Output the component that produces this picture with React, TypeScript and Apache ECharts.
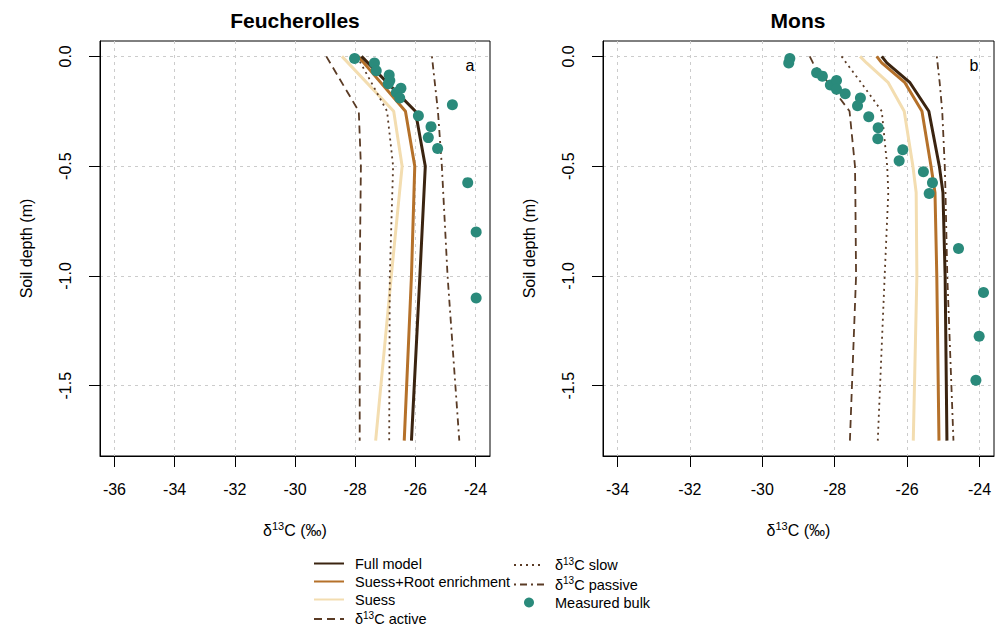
import React, { useEffect, useRef } from 'react';
import * as echarts from 'echarts';

const FONT = '"Liberation Sans", Arial, Helvetica, sans-serif';

// Panel titles
const panelTitles = ['Feucherolles', 'Mons'];
const panelLetters = ['a', 'b'];

// Tick labels
const xTicksLeft = [-36, -34, -32, -30, -28, -26, -24];
const xTicksRight = [-34, -32, -30, -28, -26, -24];
const yTicks = [0, -0.5, -1.0, -1.5];

// Left panel (Feucherolles) model profiles: depth (m) and δ13C (‰)
const leftDepths = [0, -0.25, -0.5, -1.0, -1.75];
const leftFull = [-27.79, -26.0, -25.67, -25.85, -26.13];
const leftRoot = [-27.9, -26.33, -26.02, -26.13, -26.37];
const leftSuess = [-28.44, -26.72, -26.44, -26.8, -27.32];
const leftActive = [-28.96, -27.88, -27.81, -27.85, -27.85];
const leftSlow = [-27.94, -26.94, -26.74, -26.85, -26.87];
const leftPassive = [-25.45, -25.25, -25.12, -24.93, -24.54];

// Left measured bulk
const leftBulkX = [-28.02, -27.36, -27.3, -26.87, -26.85, -26.9, -26.48, -26.63, -26.52, -24.77, -25.9, -25.48, -25.57, -25.26, -24.26, -23.98, -23.98];
const leftBulkD = [-0.01, -0.03, -0.065, -0.085, -0.11, -0.125, -0.145, -0.165, -0.19, -0.22, -0.27, -0.32, -0.37, -0.42, -0.575, -0.8, -1.1];

// Right panel (Mons) model profiles
const rightDepths = [0, -0.03, -0.12, -0.25, -0.5, -0.62, -1.0, -1.75];
const rightFull = [-26.7, -26.56, -25.92, -25.4, -25.11, -25.01, -24.95, -24.9];
const rightRoot = [-26.84, -26.7, -26.06, -25.59, -25.34, -25.23, -25.18, -25.12];
const rightSuess = [-27.3, -27.12, -26.52, -26.08, -25.84, -25.75, -25.73, -25.83];
const rightActive = [-28.69, -28.6, -28.18, -27.59, -27.44, -27.43, -27.41, -27.58];
const rightSlow = [-27.81, -27.68, -27.27, -26.7, -26.55, -26.52, -26.62, -26.81];
const rightPassive = [-25.18, -25.16, -25.1, -25.03, -24.96, -24.94, -24.89, -24.72];

// Right measured bulk
const rightBulkX = [-29.24, -29.27, -28.5, -28.34, -28.12, -27.95, -27.95, -27.71, -27.29, -27.37, -27.06, -26.8, -26.81, -26.12, -26.22, -25.55, -25.3, -25.39, -24.58, -23.89, -24.01, -24.1];
const rightBulkD = [-0.01, -0.03, -0.075, -0.09, -0.13, -0.11, -0.15, -0.17, -0.19, -0.225, -0.275, -0.325, -0.375, -0.425, -0.475, -0.525, -0.575, -0.625, -0.875, -1.075, -1.275, -1.475];

const legendCol1 = ['Full model', 'Suess+Root enrichment', 'Suess', 'active'];
const legendCol2 = ['slow', 'passive', 'Measured bulk'];

const C_FULL = '#3b2410';
const C_ROOT = '#b5712a';
const C_SUESS = '#f3ddb0';
const C_POOL = '#5a3b25';
const C_BULK = '#2a8a7b';

function pairs(xs: number[], ds: number[]) {
  return xs.map((x, i) => [x, ds[i]]);
}

function lineSeries(name: string, xs: number[], ds: number[], idx: number, color: string, width: number, type: any) {
  return {
    type: 'line',
    name,
    data: pairs(xs, ds),
    xAxisIndex: idx,
    yAxisIndex: idx,
    symbol: 'none',
    silent: true,
    lineStyle: { color, width, type, cap: 'butt' },
    itemStyle: { color },
    z: 2,
  };
}

function bulkSeries(xs: number[], ds: number[], idx: number) {
  return {
    type: 'scatter',
    name: 'Measured bulk',
    data: pairs(xs, ds),
    xAxisIndex: idx,
    yAxisIndex: idx,
    symbol: 'circle',
    symbolSize: 11,
    silent: true,
    itemStyle: { color: C_BULK, opacity: 1 },
    z: 3,
  };
}

const axisNameRich = {
  t: { fontSize: 16, fontFamily: FONT, color: '#000' },
  s: { fontSize: 11, fontFamily: FONT, color: '#000', padding: [0, 0, 9, 0] },
};

function makeXAxis(idx: number, min: number, max: number, ticks: number[]) {
  return {
    type: 'value',
    gridIndex: idx,
    min,
    max,
    position: 'bottom',
    name: '{t|δ}{s|13}{t|C (‰)}',
    nameLocation: 'middle',
    nameGap: 64,
    nameTextStyle: { rich: axisNameRich },
    axisLine: { show: true, onZero: false, lineStyle: { color: '#000', width: 1 } },
    axisTick: { show: true, length: 11, customValues: ticks, lineStyle: { color: '#000', width: 1 } },
    axisLabel: { show: true, customValues: ticks, margin: 25, fontSize: 16, fontFamily: FONT, color: '#000', formatter: (v: number) => String(v) },
    splitLine: { show: true, lineStyle: { color: '#cccccc', width: 1, type: [3, 4] } },
  };
}

function makeYAxis(idx: number) {
  return {
    type: 'value',
    gridIndex: idx,
    min: -1.82,
    max: 0.07,
    name: 'Soil depth (m)',
    nameLocation: 'middle',
    nameRotate: 90,
    nameGap: 66,
    nameTextStyle: { fontSize: 16, fontFamily: FONT, color: '#000' },
    axisLine: { show: true, onZero: false, lineStyle: { color: '#000', width: 1 } },
    axisTick: { show: true, length: 11, customValues: yTicks, lineStyle: { color: '#000', width: 1 } },
    axisLabel: { show: true, customValues: yTicks, rotate: 90, margin: 27, fontSize: 16, fontFamily: FONT, color: '#000', formatter: (v: number) => v.toFixed(1) },
    splitLine: { show: true, lineStyle: { color: '#cccccc', width: 1, type: [3, 4] } },
  };
}

const legendRich = {
  t: { fontSize: 14.5, fontFamily: FONT, color: '#000', lineHeight: 18 },
  s: { fontSize: 10, fontFamily: FONT, color: '#000', padding: [0, 0, 8, 0] },
};

function legendFormatter(name: string) {
  if (name === 'active' || name === 'slow' || name === 'passive') {
    return '{t|δ}{s|13}{t|C ' + name + '}';
  }
  return '{t|' + name + '}';
}

function legendItems(names: string[]) {
  return names.map((n) => (n === 'Measured bulk' ? { name: n } : { name: n, itemStyle: { opacity: 0 } }));
}

function makeLegend(names: string[], left: number) {
  return {
    data: legendItems(names),
    orient: 'vertical',
    left,
    top: 556,
    width: 200,
    height: 120,
    padding: 0,
    itemGap: 3,
    itemWidth: 30,
    itemHeight: 10,
    selectedMode: false,
    formatter: legendFormatter,
    textStyle: { fontSize: 14.5, fontFamily: FONT, color: '#000', padding: [0, 0, 0, 6], rich: legendRich },
  };
}

export default function App() {
  const ref = useRef<HTMLDivElement>(null);

  useEffect(() => {
    if (!ref.current) return;
    const chart = echarts.init(ref.current, null, { renderer: 'svg' });

    const option: any = {
      animation: false,
      backgroundColor: '#ffffff',
      textStyle: { fontFamily: FONT },
      grid: [
        { left: 100, top: 41, width: 390, height: 415, show: true, borderColor: '#000', borderWidth: 1, backgroundColor: 'transparent' },
        { left: 603, top: 41, width: 391, height: 415, show: true, borderColor: '#000', borderWidth: 1, backgroundColor: 'transparent' },
      ],
      xAxis: [makeXAxis(0, -36.48, -23.52, xTicksLeft), makeXAxis(1, -34.4, -23.6, xTicksRight)],
      yAxis: [makeYAxis(0), makeYAxis(1)],
      legend: [makeLegend(legendCol1, 313), makeLegend(legendCol2, 513)],
      graphic: [
        { type: 'text', x: 295, y: 20, style: { text: panelTitles[0], font: 'bold 21px ' + FONT, fill: '#000', textAlign: 'center', textVerticalAlign: 'middle' } },
        { type: 'text', x: 798, y: 20, style: { text: panelTitles[1], font: 'bold 21px ' + FONT, fill: '#000', textAlign: 'center', textVerticalAlign: 'middle' } },
        { type: 'text', x: 470, y: 65, style: { text: panelLetters[0], font: '16px ' + FONT, fill: '#000', textAlign: 'center', textVerticalAlign: 'middle' } },
        { type: 'text', x: 974, y: 65, style: { text: panelLetters[1], font: '16px ' + FONT, fill: '#000', textAlign: 'center', textVerticalAlign: 'middle' } },
      ],
      series: [
        lineSeries('Suess', leftSuess, leftDepths, 0, C_SUESS, 3, 'solid'),
        lineSeries('Suess+Root enrichment', leftRoot, leftDepths, 0, C_ROOT, 3, 'solid'),
        lineSeries('Full model', leftFull, leftDepths, 0, C_FULL, 3, 'solid'),
        lineSeries('active', leftActive, leftDepths, 0, C_POOL, 1.8, [8, 5]),
        lineSeries('slow', leftSlow, leftDepths, 0, C_POOL, 1.8, [2, 4]),
        lineSeries('passive', leftPassive, leftDepths, 0, C_POOL, 1.8, [2, 4, 7, 4]),
        bulkSeries(leftBulkX, leftBulkD, 0),
        lineSeries('Suess', rightSuess, rightDepths, 1, C_SUESS, 3, 'solid'),
        lineSeries('Suess+Root enrichment', rightRoot, rightDepths, 1, C_ROOT, 3, 'solid'),
        lineSeries('Full model', rightFull, rightDepths, 1, C_FULL, 3, 'solid'),
        lineSeries('active', rightActive, rightDepths, 1, C_POOL, 1.8, [8, 5]),
        lineSeries('slow', rightSlow, rightDepths, 1, C_POOL, 1.8, [2, 4]),
        lineSeries('passive', rightPassive, rightDepths, 1, C_POOL, 1.8, [2, 4, 7, 4]),
        bulkSeries(rightBulkX, rightBulkD, 1),
      ],
    };

    chart.setOption(option);
    return () => {
      chart.dispose();
    };
  }, []);

  return (
    <div
      ref={ref}
      style={{ position: 'absolute', left: 0, top: 0, width: 1001, height: 627, background: '#fff' }}
    />
  );
}
